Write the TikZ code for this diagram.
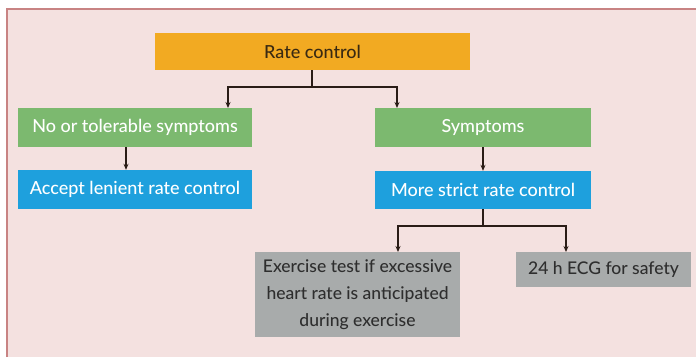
\documentclass[tikz,border=0pt]{standalone}
\usepackage{fontspec}
\setmainfont{Lato}[UprightFont={Lato Medium}]
\usetikzlibrary{arrows.meta}
\definecolor{bgpink}{HTML}{F4E1E0}
\definecolor{framered}{HTML}{C88383}
\definecolor{boxorange}{HTML}{F2AA22}
\definecolor{boxgreen}{HTML}{7CB96F}
\definecolor{boxblue}{HTML}{1EA0DD}
\definecolor{boxgrey}{HTML}{A8ABAB}
\definecolor{darktext}{HTML}{3A2A12}
\definecolor{greytext}{HTML}{2E2E2E}
\definecolor{linedark}{HTML}{2A1C16}
\begin{document}
\begin{tikzpicture}[x=1pt,y=-1pt,
  box/.style={rectangle, inner sep=0pt, align=center, font=\fontsize{18}{22}\selectfont},
  conn/.style={draw=linedark, line width=1.8pt},
  arr/.style={conn, -{Stealth[length=6pt,width=5pt]}}]
\useasboundingbox (0,0) rectangle (696,357);
\fill[white] (0,0) rectangle (696,357);
\fill[bgpink] (7,9) rectangle (696,357);
\draw[framered, line width=1.2pt] (7,357) -- (7,9) -- (696,9);
% nodes
\node[box, fill=boxorange, text=darktext, minimum width=315pt, minimum height=37pt] (rate) at (312.5,51.5) {Rate control};
\node[box, fill=boxgreen, text=white, minimum width=234pt, minimum height=39pt] (g1) at (135,127.5) {No or tolerable symptoms};
\node[box, fill=boxblue, text=white, minimum width=234pt, minimum height=39pt] (b1) at (135,189.5) {Accept lenient rate control};
\node[box, fill=boxgreen, text=white, minimum width=216pt, minimum height=39pt] (g2) at (483,127.5) {Symptoms};
\node[box, fill=boxblue, text=white, minimum width=216pt, minimum height=38pt] (b2) at (483,190) {More strict rate control};
\node[box, fill=boxgrey, text=greytext, minimum width=205pt, minimum height=85pt, font=\fontsize{17.5}{27}\selectfont] (gr1) at (357.5,294.5) {Exercise test if excessive\\heart rate is anticipated\\during exercise};
\node[box, fill=boxgrey, text=greytext, minimum width=175pt, minimum height=35pt, font=\fontsize{17.5}{20}\selectfont] (gr2) at (603.5,269.5) {24 h ECG for safety};
% connectors
\coordinate (j1) at (312,87);
\coordinate (tL) at (228,108);
\coordinate (tR) at (397,108);
\draw[conn] (rate.south -| j1) -- (j1);
\draw[arr] (j1) -| (tL);
\draw[arr] (j1) -| (tR);
\draw[arr] (g1.south -| 126,0) -- (b1.north -| 126,0);
\draw[arr] (g2.south) -- (b2.north);
\coordinate (j2) at (483,226);
\coordinate (tL2) at (398,252);
\coordinate (tR2) at (566,252);
\draw[conn] (b2.south) -- (j2);
\draw[arr] (j2) -| (tL2);
\draw[arr] (j2) -| (tR2);
\end{tikzpicture}
\end{document}
